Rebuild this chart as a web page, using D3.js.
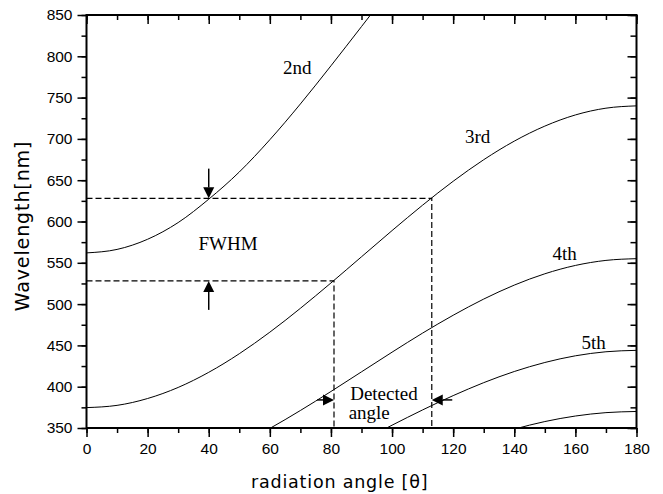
<!DOCTYPE html>
<html>
<head>
<meta charset="utf-8">
<script src="https://cdn.jsdelivr.net/npm/d3@7"></script>
<style>
  body { margin: 0; background: #fff; }
  svg { display: block; }
</style>
</head>
<body>
<svg id="chart" width="663" height="494"></svg>
<script>
// ---- data ----
const angles = [0,10,20,30,40,50,60,70,80,90,100,110,120,130,140,150,160,170,180];
const order2 = [562,566.2,578.5,598.7,627,659.9,699,742.3,788.5,836,883.6,929.7,973,1012.2,1045.9,1073.3,1093.5,1105.9,1110];
const order3 = [374.7,377.4,385.7,399.1,417.4,439.9,466,494.9,525.6,557.3,589,619.8,648.7,674.8,697.3,715.5,729,737.2,740];
const order4 = [281,283.1,289.3,299.4,313.1,329.9,349.5,371.2,394.2,418,441.8,464.9,486.5,506.1,523,536.7,546.8,552.9,555];
const order5 = [224.8,226.5,231.4,239.5,250.4,263.9,279.6,296.9,315.4,334.4,353.4,371.9,389.2,404.9,418.4,429.3,437.4,442.3,444];
const order6 = [187.3,188.7,192.8,199.6,208.7,220,233,247.4,262.8,278.7,294.5,309.9,324.3,337.4,348.6,357.8,364.5,368.6,370];
const seriesList = [order2, order3, order4, order5, order6];

const xTicks = [0,20,40,60,80,100,120,140,160,180];
const yTicks = [350,400,450,500,550,600,650,700,750,800,850];

// FWHM guides: [wavelength, detected angle]
const fwhmUpper = [628, 113];
const fwhmLower = [528, 81];

// curve labels: [text, angle, wavelength]
const curveLabels = [["2nd",69,779],["3rd",128,695],["4th",156.5,553],["5th",166,446]];
const noteLabels = [["FWHM",46.3,565,"middle"],["Detected",86.3,384,"start"],["angle",85.8,361,"start"]];

// arrows: [fromAngle, fromWL, toAngle, toWL]
const arrows = [[40,664,40,628],[40,493,40,528],[75.5,384,81,384],[119.7,384,113,384]];

// ---- layout ----
const svg = d3.select("#chart");
const m = {left: 86.5, right: 26.5, top: 15, bottom: 66};
const W = 663, H = 494;
const x = d3.scaleLinear().domain([0,180]).range([m.left, W - m.right]);
const y = d3.scaleLinear().domain([350,850]).range([H - m.bottom, m.top]);

svg.append("defs").append("clipPath").attr("id","clip")
  .append("rect").attr("x", x(0)).attr("y", y(850))
  .attr("width", x(180)-x(0)).attr("height", y(350)-y(850));

const plot = svg.append("g").attr("clip-path","url(#clip)");

const line = d3.line().x((d,i)=>x(angles[i])).y(d=>y(d)).curve(d3.curveMonotoneX);
seriesList.forEach(s => {
  plot.append("path").attr("d", line(s)).attr("fill","none")
    .attr("stroke","#000").attr("stroke-width",1);
});

// dashed guides
[fwhmUpper, fwhmLower].forEach(([wl, ang]) => {
  plot.append("path")
    .attr("d", `M${x(0)},${y(wl)}H${x(ang)}V${y(350)}`)
    .attr("fill","none").attr("stroke","#000").attr("stroke-width",1.2)
    .attr("stroke-dasharray","6,3");
});

// arrows
arrows.forEach(([a0,w0,a1,w1]) => {
  const x0 = x(a0), y0 = y(w0), x1 = x(a1), y1 = y(w1);
  const dx = x1-x0, dy = y1-y0, L = Math.hypot(dx,dy);
  const ux = dx/L, uy = dy/L;
  const hl = 11, hw = 5.5;
  const bx = x1 - ux*hl, by = y1 - uy*hl;
  svg.append("line").attr("x1",x0).attr("y1",y0).attr("x2",bx).attr("y2",by)
    .attr("stroke","#000").attr("stroke-width",1.5);
  svg.append("path")
    .attr("d", `M${x1},${y1}L${bx - uy*hw},${by + ux*hw}L${bx + uy*hw},${by - ux*hw}Z`)
    .attr("fill","#000");
});

// labels
const serif = "'Liberation Serif','Times New Roman',serif";
curveLabels.forEach(([t,a,w]) => {
  svg.append("text").attr("x",x(a)).attr("y",y(w)).attr("text-anchor","middle")
    .attr("font-family",serif).attr("font-size",19).text(t);
});
noteLabels.forEach(([t,a,w,anc]) => {
  svg.append("text").attr("x",x(a)).attr("y",y(w)).attr("text-anchor",anc)
    .attr("font-family",serif).attr("font-size",19).text(t);
});

// axes
const sans = "'Liberation Sans',Arial,sans-serif";
function styleAxis(g) {
  g.select(".domain").remove();
  g.selectAll(".tick line").attr("stroke","#000").attr("stroke-width",1.5);
  g.selectAll("text").attr("font-family",sans).attr("font-size",15.5).attr("fill","#000");
}
const xMinor = d3.range(0,181,10);
const yMinor = d3.range(350,851,25);

svg.append("g").attr("transform",`translate(0,${y(350)})`)
  .call(d3.axisBottom(x).tickValues(xMinor).tickSize(5).tickFormat("")).call(styleAxis);
svg.append("g").attr("transform",`translate(0,${y(350)})`)
  .call(d3.axisBottom(x).tickValues(xTicks).tickSize(9).tickPadding(6).tickFormat(d3.format("d"))).call(styleAxis);
svg.append("g").attr("transform",`translate(0,${y(850)})`)
  .call(d3.axisBottom(x).tickValues(xMinor).tickSize(5).tickFormat("")).call(styleAxis);
svg.append("g").attr("transform",`translate(0,${y(850)})`)
  .call(d3.axisBottom(x).tickValues(xTicks).tickSize(9).tickFormat("")).call(styleAxis);

svg.append("g").attr("transform",`translate(${x(0)},0)`)
  .call(d3.axisLeft(y).tickValues(yMinor).tickSize(5).tickFormat("")).call(styleAxis);
svg.append("g").attr("transform",`translate(${x(0)},0)`)
  .call(d3.axisLeft(y).tickValues(yTicks).tickSize(9).tickPadding(5).tickFormat(d3.format("d"))).call(styleAxis);
svg.append("g").attr("transform",`translate(${x(180)},0)`)
  .call(d3.axisLeft(y).tickValues(yMinor).tickSize(-0).tickFormat("")).call(styleAxis);
svg.append("g").attr("transform",`translate(${x(180)},0)`)
  .call(d3.axisRight(y).tickValues(yMinor).tickSize(-6).tickFormat("")).call(styleAxis);
svg.append("g").attr("transform",`translate(${x(180)},0)`)
  .call(d3.axisRight(y).tickValues(yTicks).tickSize(-9).tickFormat("")).call(styleAxis);

// frame
svg.append("rect").attr("x",x(0)).attr("y",y(850))
  .attr("width",x(180)-x(0)).attr("height",y(350)-y(850))
  .attr("fill","none").attr("stroke","#000").attr("stroke-width",2);

// titles
const titleFont = "'DejaVu Sans',sans-serif";
svg.append("text").attr("x",251).attr("y",488)
  .attr("font-family",titleFont).attr("font-size",17.5).attr("letter-spacing",0.8)
  .text("radiation angle [θ]");
svg.append("text").attr("transform",`translate(29,${(140+312)/2}) rotate(-90)`)
  .attr("text-anchor","middle")
  .attr("font-family",titleFont).attr("font-size",19).attr("letter-spacing",0.9)
  .text("Wavelength[nm]");
</script>
</body>
</html>
